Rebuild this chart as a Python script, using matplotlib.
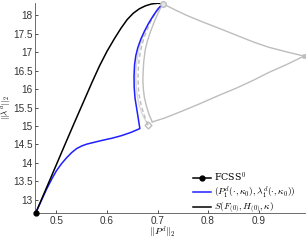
import numpy as np
import matplotlib.pyplot as plt

plt.rcParams['mathtext.fontset'] = 'cm'
plt.rcParams['font.family'] = ['Liberation Sans', 'DejaVu Sans']

# start point FCSS^0
start_x = [0.459]
start_y = [12.65]

# black curve S(F_(0), H_(0), kappa)
black_x = [0.459, 0.475, 0.49, 0.505, 0.52, 0.538, 0.555, 0.57, 0.585, 0.60,
           0.615, 0.628, 0.64, 0.652, 0.664, 0.676, 0.688, 0.70, 0.71]
black_y = [12.65, 13.16, 13.64, 14.12, 14.60, 15.17, 15.70, 16.17, 16.62, 17.02,
           17.37, 17.65, 17.88, 18.05, 18.17, 18.25, 18.30, 18.32, 18.31]

# blue curve (P_1^d, lambda_1^d)
blue_x = [0.459, 0.47, 0.48, 0.4916, 0.50, 0.51, 0.52, 0.53, 0.54, 0.55, 0.56,
          0.575, 0.59, 0.61, 0.629, 0.648, 0.665,
          0.6625, 0.659, 0.6555, 0.6538, 0.6535, 0.6545, 0.657, 0.661, 0.667,
          0.674, 0.682, 0.691, 0.70, 0.71]
blue_y = [12.65, 12.98, 13.28, 13.59, 13.79, 13.98, 14.14, 14.28, 14.39, 14.46,
          14.51, 14.56, 14.61, 14.67, 14.74, 14.83, 14.93,
          15.15, 15.45, 15.75, 16.05, 16.35, 16.65, 16.90, 17.12, 17.35,
          17.56, 17.77, 17.97, 18.15, 18.31]

# grey loop: top branch to the right point, lower branch back
loop_top_x = [0.71, 0.735, 0.758, 0.79, 0.824, 0.857, 0.89, 0.92, 0.954, 0.99]
loop_top_y = [18.31, 18.14, 17.99, 17.81, 17.63, 17.45, 17.27, 17.13, 17.01, 16.89]
loop_bot_x = [0.99, 0.955, 0.922, 0.89, 0.857, 0.82, 0.785, 0.75, 0.713, 0.6896]
loop_bot_y = [16.89, 16.66, 16.46, 16.24, 16.03, 15.82, 15.61, 15.41, 15.21, 15.11]

# grey arcs back up to the top point
outer_x = [0.6896, 0.6835, 0.678, 0.674, 0.672, 0.671, 0.6714, 0.6728, 0.6755,
           0.68, 0.686, 0.693, 0.701, 0.71]
outer_y = [15.11, 15.30, 15.54, 15.77, 15.99, 16.22, 16.44, 16.75, 17.05,
           17.30, 17.55, 17.80, 18.05, 18.31]
dash_x = [0.681, 0.674, 0.668, 0.664, 0.662, 0.6615, 0.662, 0.664, 0.668,
          0.673, 0.68, 0.688, 0.698, 0.71]
dash_y = [15.03, 15.28, 15.54, 15.80, 16.05, 16.30, 16.55, 16.85, 17.12,
          17.38, 17.62, 17.87, 18.10, 18.31]
inner_x = [0.681, 0.671, 0.664, 0.66, 0.658, 0.657, 0.6575, 0.66, 0.664,
           0.67, 0.677, 0.686, 0.697, 0.71]
inner_y = [15.03, 15.28, 15.54, 15.80, 16.05, 16.30, 16.55, 16.85, 17.12,
           17.38, 17.62, 17.87, 18.10, 18.31]

grey = '#bdbdbd'

fig = plt.figure(figsize=(3.06, 2.4), dpi=100)
ax = fig.add_axes([0.116, 0.113, 0.881, 0.875])

ax.plot(inner_x, inner_y, color='#dadada', lw=1.0)
ax.plot(outer_x, outer_y, color=grey, lw=1.0)
ax.plot(dash_x, dash_y, color=grey, lw=1.0, ls=(0, (3, 2)))
ax.plot(loop_top_x, loop_top_y, color=grey, lw=1.0)
ax.plot(loop_bot_x, loop_bot_y, color=grey, lw=1.0)
ax.plot([loop_top_x[-1]], [loop_top_y[-1]], 'o', color=grey, ms=2.5,
        clip_on=False)
ax.plot([dash_x[0]], [dash_y[0]], 'D', mfc='none', mec=grey, ms=3.5, mew=1)

h_blue, = ax.plot(blue_x, blue_y, color='#1f1fff', lw=1.1)
h_black, = ax.plot(black_x, black_y, color='black', lw=1.1)
ax.plot([black_x[-1]], [black_y[-1]], 'o', mfc='#e6e6e6', mec=grey, ms=4,
        mew=1, clip_on=False)
h_start, = ax.plot(start_x, start_y, '-o', color='black', ms=3.5, lw=1.1,
                   clip_on=False, zorder=5)

ax.set_xlim(0.4585, 0.992)
ax.set_ylim(12.65, 18.33)
ax.set_xticks([0.5, 0.6, 0.7, 0.8, 0.9])
ax.set_xticklabels(['0.5', '0.6', '0.7', '0.8', '0.9'])
ax.set_yticks([13, 13.5, 14, 14.5, 15, 15.5, 16, 16.5, 17, 17.5, 18])
ax.set_yticklabels(['13', '13.5', '14', '14.5', '15', '15.5', '16', '16.5',
                    '17', '17.5', '18'])
ax.tick_params(direction='in', length=2.5, width=0.6, labelsize=7.2,
               colors='#333333', pad=2)
for s in ['top', 'right']:
    ax.spines[s].set_visible(False)
for s in ['left', 'bottom']:
    ax.spines[s].set_linewidth(0.6)
    ax.spines[s].set_color('#555555')

ax.set_xlabel(r'$||P^d||_2$', fontsize=6.8)
ax.set_ylabel(r'$||\lambda^d||_2$', fontsize=6.3)
ax.xaxis.set_label_coords(0.47, -0.058)
ax.yaxis.set_label_coords(-0.08, 0.5)

ax.legend([h_start, h_blue, h_black],
          [r'FCSS$^0$', r'$(P_1^d(\cdot,\kappa_0),\lambda_1^d(\cdot,\kappa_0))$',
           r'$S(F_{(0)},H_{(0)},\kappa)$'],
          loc='upper left', bbox_to_anchor=(0.57, 0.22), frameon=False,
          handlelength=1.9, handletextpad=0.3, labelspacing=0.05,
          borderaxespad=0, prop={'family': 'serif', 'size': 6.8})

fig.savefig('out.png', dpi=100)
